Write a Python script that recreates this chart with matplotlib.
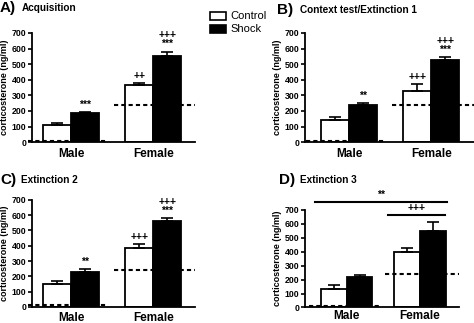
import matplotlib.pyplot as plt

plt.rcParams['font.family'] = ['Liberation Sans', 'DejaVu Sans']
plt.rcParams['font.weight'] = 'bold'

groups = ['Male', 'Female']
titles = ['Acquisition', 'Context test/Extinction 1', 'Extinction 2', 'Extinction 3']
letters = ['A)', 'B)', 'C)', 'D)']

control_mean = [[110, 365], [145, 330], [150, 385], [135, 395]]
control_err = [[10, 12], [15, 40], [20, 25], [25, 30]]
shock_mean = [[185, 550], [240, 525], [230, 565], [220, 550]]
shock_err = [[8, 30], [12, 18], [15, 15], [15, 65]]
baseline = [10, 240]

control_marks = [['', '++'], ['', '+++'], ['', '+++'], ['', '']]
shock_marks = [['***', '+++\n***'], ['**', '+++\n***'], ['**', '+++\n***'], ['', '']]

# axes rectangles (left, bottom, width, height) and x limits
boxes = [[0.067, 0.560, 0.345, 0.338],
         [0.643, 0.560, 0.357, 0.338],
         [0.067, 0.050, 0.345, 0.331],
         [0.643, 0.048, 0.325, 0.303]]
xlims = [(-0.48, 1.51), (-0.54, 1.52), (-0.48, 1.51), (-0.575, 1.53)]
widths = [0.34, 0.34, 0.34, 0.35]
# panel letter x, title x, y (figure fraction)
heads = [(0.0, 0.045, 0.975), (0.585, 0.633, 0.969),
         (0.0, 0.045, 0.443), (0.588, 0.633, 0.443)]

fig = plt.figure(figsize=(4.74, 3.23), dpi=100)

for i in range(4):
    ax = fig.add_axes(boxes[i])
    w = widths[i]
    xs = [0, 1]
    xc = [x - w / 2 for x in xs]
    xsh = [x + w / 2 for x in xs]
    ax.bar(xc, control_mean[i], width=w, color='white', edgecolor='black',
           linewidth=1.3, zorder=2)
    ax.bar(xsh, shock_mean[i], width=w, color='black', edgecolor='black',
           linewidth=1.3, zorder=2)
    ax.errorbar(xc, control_mean[i], yerr=[[0, 0], control_err[i]], fmt='none',
                ecolor='black', elinewidth=1.2, capsize=4, capthick=1.2, zorder=3)
    ax.errorbar(xsh, shock_mean[i], yerr=[[0, 0], shock_err[i]], fmt='none',
                ecolor='black', elinewidth=1.2, capsize=4, capthick=1.2, zorder=3)

    # baseline levels
    ax.plot([-0.52, 0.44], [baseline[0]] * 2, ls=(0, (2, 1.5)), color='black',
            lw=1.5, clip_on=False, zorder=4)
    ax.plot([0.52, xlims[i][1]], [baseline[1]] * 2, ls=(0, (2, 1.5)), color='black',
            lw=1.5, clip_on=False, zorder=4)

    for j in range(2):
        if control_marks[i][j]:
            ax.text(xc[j], control_mean[i][j] + control_err[i][j] + 15,
                    control_marks[i][j], ha='center', va='bottom', fontsize=7.5,
                    linespacing=0.9)
        if shock_marks[i][j]:
            ax.text(xsh[j], shock_mean[i][j] + shock_err[i][j] + 15,
                    shock_marks[i][j], ha='center', va='bottom', fontsize=7.5,
                    linespacing=0.9)

    ax.set_xlim(*xlims[i])
    ax.set_ylim(0, 700)
    ax.set_yticks(range(0, 701, 100))
    ax.set_xticks(xs)
    ax.set_xticklabels(groups, fontsize=8.5, fontweight='bold')
    ax.tick_params(axis='x', length=0, pad=4 if i < 3 else 2)
    ax.tick_params(axis='y', labelsize=6.3, width=1.2, length=3, pad=1)
    for lab in ax.get_yticklabels():
        lab.set_fontweight('bold')
    ax.spines['top'].set_visible(False)
    ax.spines['right'].set_visible(False)
    ax.spines['left'].set_linewidth(1.3)
    ax.spines['bottom'].set_linewidth(1.3)
    ax.set_ylabel('corticosterone (ng/ml)', fontsize=6.5, fontweight='bold',
                  labelpad=2)

    # panel title
    lx, tx, ty = heads[i]
    fig.text(lx, ty, letters[i], fontsize=11, fontweight='bold', va='center')
    fig.text(tx, ty, titles[i], fontsize=7.2, fontweight='bold', va='center')

    if i == 3:
        ax.plot([-0.44, 1.37], [758, 758], color='black', lw=1.5, clip_on=False)
        ax.text(0.47, 770, '**', ha='center', va='bottom', fontsize=7.5)
        ax.plot([0.56, 1.34], [665, 665], color='black', lw=1.5, clip_on=False)
        ax.text(0.95, 677, '+++', ha='center', va='bottom', fontsize=7.5)

# legend
fig.patches.append(plt.Rectangle((0.443, 0.938), 0.034, 0.024, facecolor='white',
                                 edgecolor='black', lw=1.2, transform=fig.transFigure))
fig.patches.append(plt.Rectangle((0.443, 0.898), 0.034, 0.024, facecolor='black',
                                 edgecolor='black', lw=1.2, transform=fig.transFigure))
fig.text(0.487, 0.950, 'Control', fontsize=8, va='center', fontweight='normal')
fig.text(0.487, 0.910, 'Shock', fontsize=8, va='center', fontweight='normal')

fig.savefig('out.png', dpi=100)
